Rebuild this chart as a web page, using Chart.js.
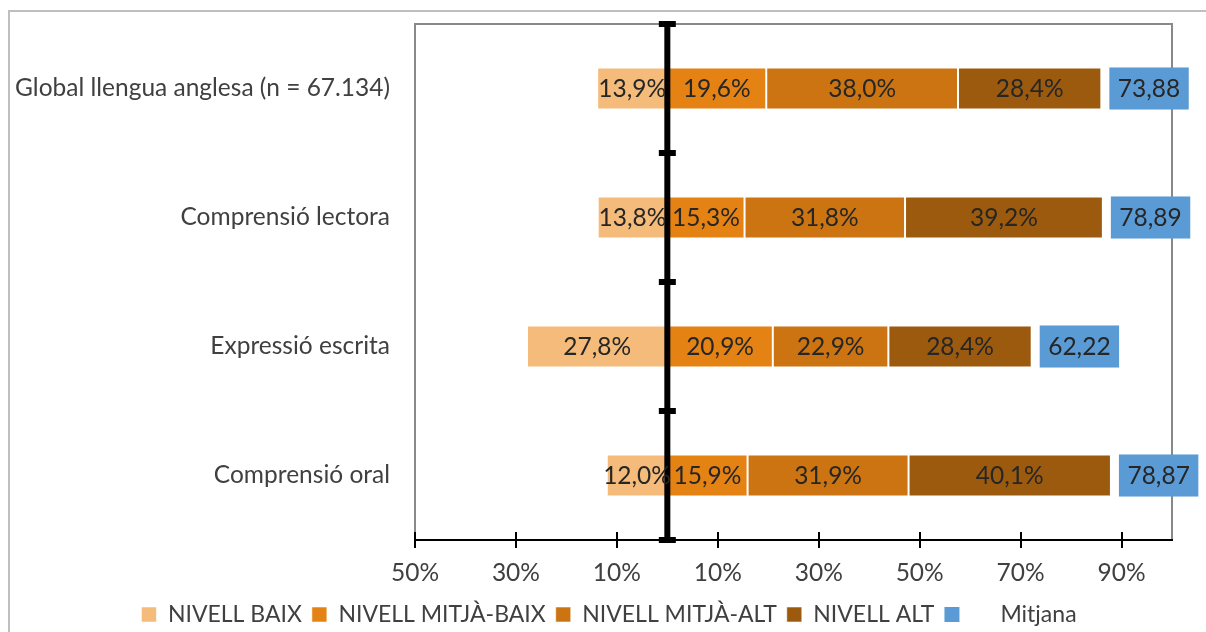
<!DOCTYPE html>
<html>
<head>
<meta charset="utf-8">
<script src="https://cdn.jsdelivr.net/npm/chart.js@4/dist/chart.umd.min.js"></script>
<style>
  html, body { margin: 0; padding: 0; background: #fff; }
  #wrap { position: relative; width: 1206px; height: 632px; }
</style>
</head>
<body>
<div id="wrap"><canvas id="c" width="1206" height="632"></canvas></div>
<script>
const categories = ['Global llengua anglesa (n = 67.134)', 'Comprensió lectora', 'Expressió escrita', 'Comprensió oral'];
const nivellBaix = [13.9, 13.8, 27.8, 12.0];
const nivellMitjaBaix = [19.6, 15.3, 20.9, 15.9];
const nivellMitjaAlt = [38.0, 31.8, 22.9, 31.9];
const nivellAlt = [28.4, 39.2, 28.4, 40.1];
const mitjana = [73.88, 78.89, 62.22, 78.87];
const tickValues = [-50, -30, -10, 10, 30, 50, 70, 90];
const tickLabels = ['50%', '30%', '10%', '10%', '30%', '50%', '70%', '90%'];
const seriesNames = ['NIVELL BAIX', 'NIVELL MITJÀ-BAIX', 'NIVELL MITJÀ-ALT', 'NIVELL ALT', '     Mitjana'];

const FONT = 'Lato';
const FS = 24.5;
const LFS = 23;
const colors = ['#F4BB7A', '#E48214', '#CB7411', '#9C5A0E', '#5B9BD5'];

const fmtPct = v => Math.abs(v).toFixed(1).replace('.', ',') + '%';
const fmtMean = v => v.toFixed(2).replace('.', ',');

const decorPlugin = {
  id: 'decor',
  afterLayout(chart) {
    if (chart.legend) { chart.legend.left += 23; chart.legend.right += 23; }
  },
  beforeDraw(chart) {
    const ctx = chart.ctx, a = chart.chartArea;
    ctx.save();
    ctx.strokeStyle = '#BFBFBF';
    ctx.lineWidth = 2;
    ctx.strokeRect(9, 11, 1400, 800);
    ctx.strokeStyle = '#898989';
    ctx.lineWidth = 2;
    ctx.strokeRect(a.left, a.top, a.right - a.left, a.bottom - a.top);
    ctx.restore();
  },
  afterDatasetsDraw(chart) {
    const ctx = chart.ctx, a = chart.chartArea;
    const xs = chart.scales.x, ys = chart.scales.y;
    ctx.save();
    ctx.strokeStyle = '#000';
    ctx.lineWidth = 2;
    xs.ticks.forEach(t => {
      const px = Math.round(xs.getPixelForValue(t.value));
      ctx.beginPath(); ctx.moveTo(px, a.bottom - 8); ctx.lineTo(px, a.bottom); ctx.stroke();
    });
    const x0 = xs.getPixelForValue(0);
    ctx.fillStyle = '#000';
    ctx.fillRect(x0 - 3, a.top, 6, a.bottom - a.top);
    for (let i = 0; i <= categories.length; i++) {
      const py = ys.getPixelForValue(i - 0.5);
      ctx.fillRect(x0 - 8.5, py - 3, 17, 6);
    }
    ctx.font = FS + 'px ' + FONT;
    ctx.textAlign = 'center';
    ctx.textBaseline = 'middle';
    ctx.fillStyle = '#262626';
    for (let d = 0; d < 4; d++) {
      const meta = chart.getDatasetMeta(d);
      meta.data.forEach((el, i) => {
        const v = chart.data.datasets[d].data[i];
        ctx.fillText(fmtPct(v), (el.x + el.base) / 2, el.y + 1);
      });
    }
    const last = chart.getDatasetMeta(3);
    last.data.forEach((el, i) => {
      const txt = fmtMean(mitjana[i]);
      const w = ctx.measureText(txt).width + 17;
      const h = el.height;
      const left = el.x + 8;
      ctx.fillStyle = colors[4];
      ctx.fillRect(left, el.y - h / 2, w, h);
      ctx.fillStyle = '#262626';
      ctx.fillText(txt, left + w / 2, el.y + 1);
    });
    ctx.restore();
  }
};

const ds = (label, data, color) => ({
  label, data, backgroundColor: color,
  borderColor: 'rgba(255,255,255,0.55)', borderWidth: 1, borderSkipped: false,
  barPercentage: 0.326, categoryPercentage: 1.0
});

new Chart(document.getElementById('c'), {
  type: 'bar',
  data: {
    labels: categories,
    datasets: [
      ds(seriesNames[0], nivellBaix.map(v => -v), colors[0]),
      ds(seriesNames[1], nivellMitjaBaix, colors[1]),
      ds(seriesNames[2], nivellMitjaAlt, colors[2]),
      ds(seriesNames[3], nivellAlt, colors[3]),
      Object.assign(ds(seriesNames[4], categories.map(() => null), colors[4]), { borderWidth: 0 })
    ]
  },
  options: {
    indexAxis: 'y',
    responsive: false,
    animation: false,
    layout: { padding: { top: 24, right: 34, left: 0, bottom: -4 } },
    scales: {
      x: {
        type: 'linear', stacked: true, min: -50, max: 100,
        afterBuildTicks: s => { s.ticks = tickValues.map(v => ({ value: v })); },
        afterFit: s => { s.height = 53; s.paddingLeft = 0; s.paddingRight = 0; },
        grid: { drawOnChartArea: false, drawTicks: true, tickLength: 8, color: '#000', lineWidth: 2 },
        border: { display: true, color: '#000', width: 2 },
        ticks: {
          padding: 10, color: '#404040', font: { family: FONT, size: FS },
          callback: (v) => tickLabels[tickValues.indexOf(v)]
        }
      },
      y: {
        stacked: true,
        afterFit: s => { s.width = 415; s.paddingTop = 0; s.paddingBottom = 0; },
        grid: { display: false, drawTicks: false },
        border: { display: false },
        ticks: { padding: 25, color: '#404040', font: { family: FONT, size: FS } }
      }
    },
    plugins: {
      legend: {
        position: 'bottom',
        labels: { boxWidth: 15, boxHeight: 15, padding: 10, color: '#404040', font: { family: FONT, size: LFS } }
      },
      tooltip: { enabled: false }
    }
  },
  plugins: [decorPlugin]
});
</script>
</body>
</html>
